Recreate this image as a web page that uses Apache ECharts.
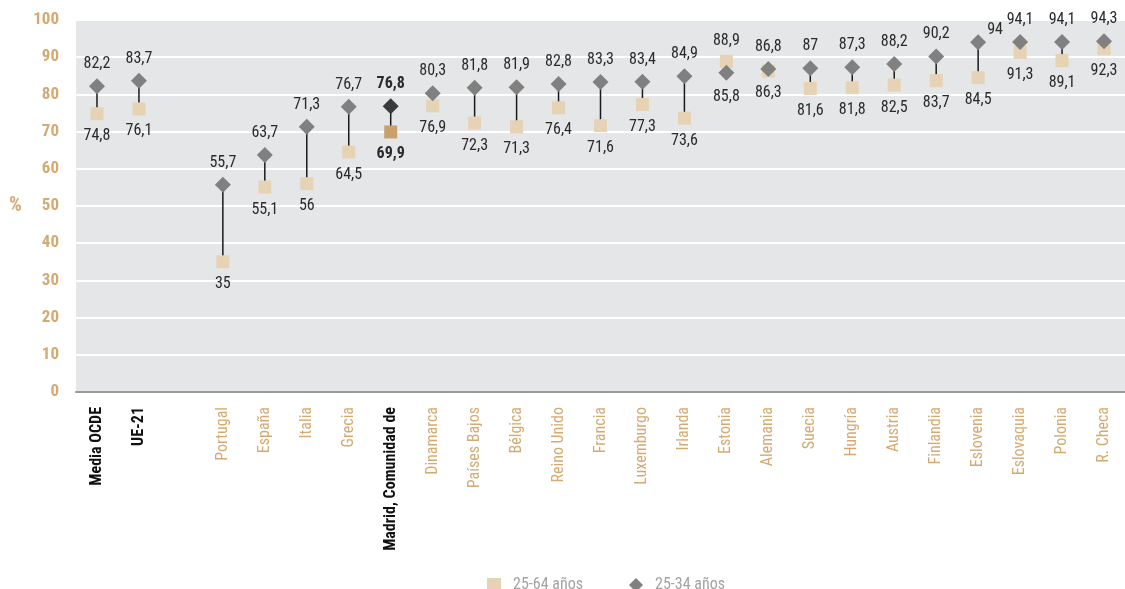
<!DOCTYPE html>
<html><head><meta charset="utf-8">
<script src="https://cdn.jsdelivr.net/npm/echarts@6/dist/echarts.min.js"></script>
<style>html,body{margin:0;padding:0;background:#fff}#c{width:1125px;height:589px}</style>
</head><body><div id="c"></div>
<script>
const categories = ['Media OCDE','UE-21','','Portugal','España','Italia','Grecia','Madrid, Comunidad de','Dinamarca','Países Bajos','Bélgica','Reino Unido','Francia','Luxemburgo','Irlanda','Estonia','Alemania','Suecia','Hungría','Austria','Finlandia','Eslovenia','Eslovaquia','Polonia','R. Checa'];
const v2564 = [74.8,76.1,null,35,55.1,56,64.5,69.9,76.9,72.3,71.3,76.4,71.6,77.3,73.6,88.9,86.3,81.6,81.8,82.5,83.7,84.5,91.3,89.1,92.3];
const v2534 = [82.2,83.7,null,55.7,63.7,71.3,76.7,76.8,80.3,81.8,81.9,82.8,83.3,83.4,84.9,85.8,86.8,87,87.3,88.2,90.2,94,94.1,94.1,94.3];
const boldCats = ['Media OCDE','UE-21','Madrid, Comunidad de'];
const highlight = 'Madrid, Comunidad de';
const seriesNames = ['25-64 años','25-34 años'];

const FONT = "'Roboto Condensed','Liberation Sans Narrow','Arial Narrow',Roboto,sans-serif";
const TAN = '#d4aa72';
const fmt = v => String(v).replace('.', ',');

function pts(vals, other, isSquare) {
  return vals.map((v, i) => {
    if (v == null) return null;
    const hi = categories[i] === highlight;
    const o = other[i];
    const top = v >= o;
    const item = {
      value: v,
      label: {
        position: top ? 'top' : 'bottom',
        distance: top ? 6 : 8,
        fontWeight: hi ? 'bold' : 'normal'
      }
    };
    if (hi) item.itemStyle = { color: isSquare ? '#c8a06b' : '#3a3a3a', opacity: 1 };
    if (!isSquare && categories[i] === 'Eslovenia') {
      item.label.position = 'right';
      item.label.distance = 1;
      item.label.offset = [0, -12];
    }
    return item;
  });
}

const chart = echarts.init(document.getElementById('c'));
chart.setOption({
  animation: false,
  textStyle: { fontFamily: FONT },
  grid: { left: 76, top: 20, width: 1060, height: 372, backgroundColor: '#e5e6e8', show: true, borderWidth: 0 },
  legend: {
    top: 572, left: 482, itemGap: 46, itemWidth: 14, itemHeight: 14,
    textStyle: { color: '#a3a3a3', fontSize: 16, fontFamily: FONT, padding: [0, 0, 0, 7] },
    data: [
      { name: seriesNames[0], icon: 'rect', itemStyle: { color: '#e6d2b4' } },
      { name: seriesNames[1], icon: 'diamond', itemStyle: { color: '#808080' } }
    ]
  },
  xAxis: {
    type: 'category', data: categories, boundaryGap: true,
    axisLine: { lineStyle: { color: '#9a9a9a', width: 2 } },
    axisTick: { inside: true, length: 7, lineStyle: { color: '#9a9a9a', width: 1.5 } },
    axisLabel: {
      rotate: 90, interval: 0, margin: 15,
      formatter: v => boldCats.includes(v) ? '{b|' + v + '}' : '{n|' + v + '}',
      rich: {
        b: { color: '#111', fontWeight: 'bold', fontSize: 16, fontFamily: FONT },
        n: { color: TAN, fontSize: 16, fontFamily: FONT }
      }
    }
  },
  yAxis: {
    type: 'value', min: 0, max: 100, interval: 10,
    axisLine: { show: false }, axisTick: { show: false },
    axisLabel: { color: TAN, fontWeight: 'bold', fontSize: 17, margin: 17, fontFamily: FONT },
    splitLine: { lineStyle: { color: '#ffffff', width: 2 } }
  },
  graphic: [{
    type: 'text', left: 9, top: 196,
    style: { text: '%', fill: TAN, font: "bold 20px " + FONT }
  }],
  series: [
    {
      type: 'custom', name: 'link', silent: true, z: 1,
      data: categories.map((c, i) => [i, v2564[i], v2534[i]]),
      encode: { x: 0, y: [1, 2] },
      renderItem: (params, api) => {
        const a = api.value(1), b = api.value(2);
        if (a == null || b == null || isNaN(a) || isNaN(b)) return null;
        const p1 = api.coord([api.value(0), a]);
        const p2 = api.coord([api.value(0), b]);
        return { type: 'line', shape: { x1: p1[0], y1: p1[1], x2: p2[0], y2: p2[1] }, style: { stroke: '#1a1a1a', lineWidth: 1.5 } };
      }
    },
    {
      type: 'scatter', name: seriesNames[0], symbol: 'rect', symbolSize: 13, z: 2,
      itemStyle: { color: '#e6d2b4', opacity: 1 },
      label: { show: true, color: '#2a2a2a', fontSize: 16, fontFamily: FONT, formatter: p => fmt(p.value) },
      data: pts(v2564, v2534, true)
    },
    {
      type: 'scatter', name: seriesNames[1], symbol: 'diamond', symbolSize: 16, z: 3,
      itemStyle: { color: '#808080', opacity: 1 },
      label: { show: true, color: '#2a2a2a', fontSize: 16, fontFamily: FONT, formatter: p => fmt(p.value) },
      data: pts(v2534, v2564, false)
    }
  ]
});
</script></body></html>
